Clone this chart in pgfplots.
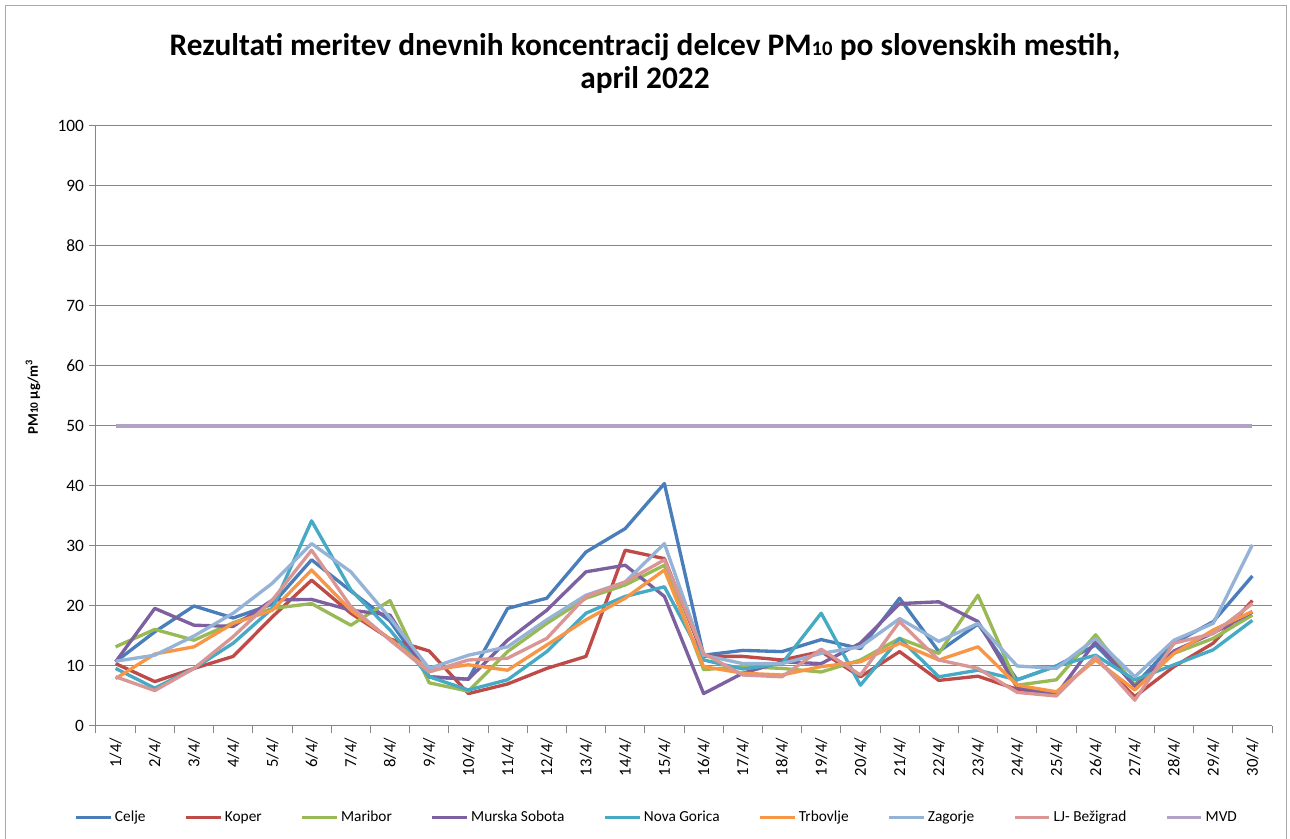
\documentclass[border=0pt]{standalone}
\usepackage{fontspec}
\setmainfont{Carlito}
\usepackage{pgfplots}
\usepackage{pgfplotstable}
\pgfplotsset{compat=1.18}
\definecolor{cCelje}{RGB}{74,126,187}
\definecolor{cKoper}{RGB}{190,75,72}
\definecolor{cMaribor}{RGB}{152,185,84}
\definecolor{cMS}{RGB}{125,96,160}
\definecolor{cNG}{RGB}{70,170,197}
\definecolor{cTrb}{RGB}{247,150,70}
\definecolor{cZag}{RGB}{149,179,215}
\definecolor{cLJ}{RGB}{217,150,148}
\definecolor{cMVD}{RGB}{179,162,199}
\definecolor{cGrid}{RGB}{134,134,134}

\pgfplotstableread{
d Celje Koper Maribor MS NG Trb Zag LJ MVD
1 10.7 10.4 13.2 10.7 9.6 7.9 10.8 8.2 50
2 15.7 7.4 16.1 19.6 6.3 12.0 11.8 5.9 50
3 20.0 9.6 14.3 16.8 9.6 13.2 15.0 9.6 50
4 18.0 11.6 17.2 16.6 13.8 17.1 18.8 14.9 50
5 20.3 18.2 19.6 21.0 19.6 19.3 23.8 21.0 50
6 27.7 24.3 20.4 21.1 34.2 26.0 30.4 29.3 50
7 22.5 18.8 16.8 19.3 22.7 19.3 25.7 19.9 50
8 17.5 14.5 20.9 18.5 16.0 14.5 18.0 14.3 50
9 8.2 12.5 7.2 8.2 8.2 9.3 9.6 9.0 50
10 7.8 5.4 5.8 7.8 6.0 10.2 11.8 11.0 50
11 19.6 7.0 12.4 14.3 7.7 9.3 13.2 11.3 50
12 21.3 9.6 17.1 19.3 12.4 13.5 17.7 14.6 50
13 29.0 11.6 21.3 25.7 18.8 17.7 21.8 21.6 50
14 32.9 29.3 23.5 26.8 21.6 21.3 24.0 24.0 50
15 40.4 27.9 26.8 21.6 23.2 26.0 30.4 27.7 50
16 11.8 11.6 9.4 5.4 11.0 9.9 11.8 12.1 50
17 12.6 11.6 9.9 8.8 9.5 8.8 10.4 8.5 50
18 12.4 11.0 9.6 10.7 10.4 8.5 10.4 8.2 50
19 14.4 12.4 9.0 10.4 18.8 9.9 12.1 12.8 50
20 12.9 8.2 11.0 13.8 6.8 10.7 13.2 8.5 50
21 21.3 12.4 14.6 20.4 14.6 13.8 17.9 17.4 50
22 12.4 7.6 12.1 20.7 8.2 11.0 14.1 11.0 50
23 17.0 8.3 21.8 17.4 9.3 13.2 17.1 9.6 50
24 7.7 6.1 6.8 6.4 7.7 6.8 10.0 5.6 50
25 10.0 5.4 7.7 5.2 10.0 5.7 9.6 5.0 50
26 13.5 11.3 15.2 14.1 11.8 11.0 14.6 11.6 50
27 6.8 4.9 6.8 6.6 7.7 6.0 8.2 4.3 50
28 13.8 9.9 12.1 12.5 10.2 12.1 14.3 13.8 50
29 17.4 13.8 14.6 15.5 12.7 16.0 17.1 15.4 50
30 25.0 20.9 18.5 19.0 17.6 19.1 30.2 20.4 50
}\data

\begin{document}
\begin{tikzpicture}
\path[use as bounding box] (0pt,0pt) rectangle (967.5pt,629.25pt);
\draw[cGrid!70, line width=0.75pt] (3.75pt,-5pt) -- (3.75pt,624.75pt) -- (964.5pt,624.75pt) -- (964.5pt,-5pt);
\node[align=center, font=\bfseries\fontsize{23.5}{24.75}\selectfont] at (483.75pt,581.6pt)
  {Rezultati meritev dnevnih koncentracij delcev PM{\fontsize{15.5}{15.5}\selectfont 10} po slovenskih mestih,\\ april 2022};
\node[rotate=90, font=\bfseries\fontsize{11}{12}\selectfont] at (24.75pt,331.5pt)
  {PM{\fontsize{8.5}{8.5}\selectfont 10} µg/m\textsuperscript{3}};
\begin{axis}[
  at={(72pt,84.75pt)}, anchor=south west,
  scale only axis, width=882pt, height=450pt,
  xmin=0.5, xmax=30.5, ymin=0, ymax=100,
  ytick={0,10,...,100},
  xtick={0.5,1.5,...,30.5},
  x tick label as interval,
  xticklabels={1/4/,2/4/,3/4/,4/4/,5/4/,6/4/,7/4/,8/4/,9/4/,10/4/,11/4/,12/4/,13/4/,14/4/,15/4/,16/4/,17/4/,18/4/,19/4/,20/4/,21/4/,22/4/,23/4/,24/4/,25/4/,26/4/,27/4/,28/4/,29/4/,30/4/},
  /pgf/number format/assume math mode=true,
  ymajorgrids,
  grid style={cGrid, line width=0.75pt},
  axis x line*=bottom, axis y line*=left,
  axis line style={cGrid, line width=0.75pt, -},
  tick align=outside, major tick length=5.5pt,
  tick style={cGrid, line width=0.75pt},
  xticklabel style={rotate=90, anchor=east, font=\fontsize{12.5}{12.5}\selectfont},
  yticklabel style={font=\fontsize{13}{13}\selectfont},
  legend columns=9,
  legend style={draw=none, fill=none, at={(0.477,-0.152)}, anchor=center,
    font=\fontsize{11.5}{12}\selectfont,
    /tikz/every even column/.append style={column sep=27pt}},
  legend image code/.code={\draw[#1, line width=2.5pt] (0pt,0pt) -- (26pt,0pt);},
  every axis plot/.append style={line width=2.5pt, no marks, line join=round},
]
\addplot[cCelje] table[x=d,y=Celje] {\data};
\addlegendentry{Celje}
\addplot[cKoper] table[x=d,y=Koper] {\data};
\addlegendentry{Koper}
\addplot[cMaribor] table[x=d,y=Maribor] {\data};
\addlegendentry{Maribor}
\addplot[cMS] table[x=d,y=MS] {\data};
\addlegendentry{Murska Sobota}
\addplot[cNG] table[x=d,y=NG] {\data};
\addlegendentry{Nova Gorica}
\addplot[cTrb] table[x=d,y=Trb] {\data};
\addlegendentry{Trbovlje}
\addplot[cZag] table[x=d,y=Zag] {\data};
\addlegendentry{Zagorje}
\addplot[cLJ] table[x=d,y=LJ] {\data};
\addlegendentry{LJ- Bežigrad}
\addplot[cMVD] table[x=d,y=MVD] {\data};
\addlegendentry{MVD}
\end{axis}
\end{tikzpicture}
\end{document}
